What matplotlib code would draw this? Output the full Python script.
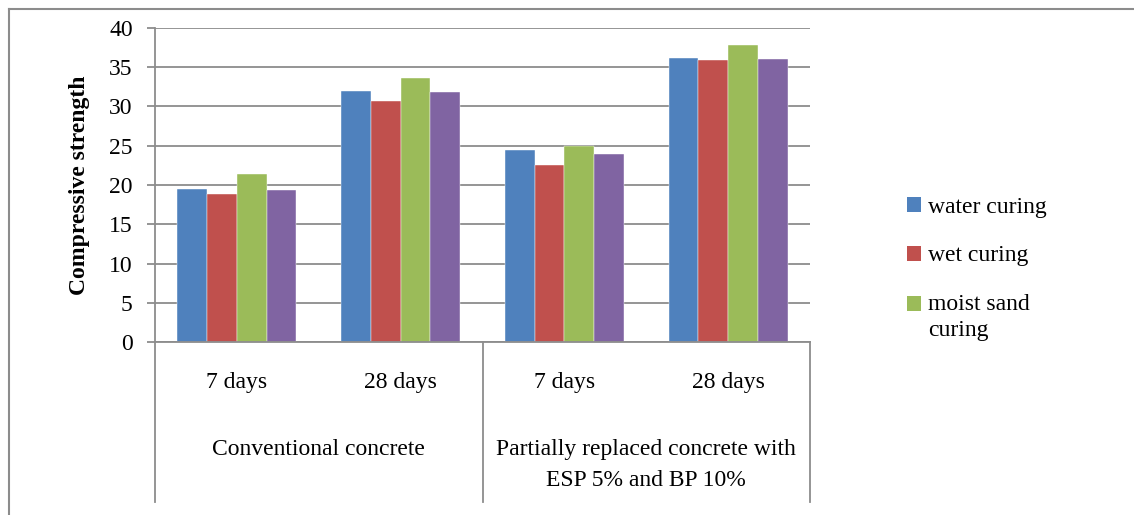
import numpy as np
import matplotlib
matplotlib.use('Agg')
import matplotlib.pyplot as plt
from matplotlib.lines import Line2D
from matplotlib.patches import Patch, Rectangle
from matplotlib.legend_handler import HandlerPatch

plt.rcParams['font.family'] = ['Liberation Serif', 'DejaVu Serif']

# data
ages = ['7 days', '28 days', '7 days', '28 days']
groups = ['Conventional concrete', 'Partially replaced concrete with\nESP 5% and BP 10%']
water_curing = [19.5, 32.0, 24.5, 36.2]
wet_curing = [18.8, 30.7, 22.5, 35.9]
moist_sand_curing = [21.4, 33.6, 25.0, 37.8]
fourth_series = [19.3, 31.8, 24.0, 36.1]
series_names = ['water curing', 'wet curing', 'moist sand\ncuring']
colors = ['#4F81BD', '#C0504D', '#9BBB59', '#8064A2']

W, H = 1134, 515
fig = plt.figure(figsize=(W / 100, H / 100), dpi=100)
ax = fig.add_axes([155 / W, (H - 342) / H, (810 - 155) / W, (342 - 28) / H])

series = [water_curing, wet_curing, moist_sand_curing, fourth_series]
x = np.arange(len(ages))
bw = 1 / 5.5
for i, vals in enumerate(series):
    ax.bar(x + (i - 1.5) * bw, vals, bw, color=colors[i],
           edgecolor='white', linewidth=0.3, zorder=3)

grid_c = '#8c8c8c'
ax.set_xlim(-0.5, 3.5)
ax.set_ylim(0, 40)
ax.set_yticks(np.arange(0, 41, 5))
ax.yaxis.grid(True, color=grid_c, linewidth=1.3, zorder=0)
ax.set_axisbelow(True)
for s in ['top', 'right', 'bottom', 'left']:
    ax.spines[s].set_visible(False)
ax.set_xticks([])
ax.tick_params(axis='y', length=6, width=1.3, color=grid_c, pad=10, labelsize=17)

ax.set_ylabel('Compressive strength', fontsize=17, fontweight='bold')
ax.yaxis.set_label_coords(-0.099, 0.5)

# axis lines and category separators
trans = ax.get_xaxis_transform()
ax.plot([-0.5, 3.5], [0, 0], color=grid_c, lw=1.3, transform=trans, clip_on=False, zorder=4)
for xs in [-0.5, 1.5, 3.5]:
    ax.plot([xs, xs], [0 if xs != -0.5 else 1, -0.51], color=grid_c, lw=1.3,
            transform=trans, clip_on=False, zorder=4)

for xi, lab in zip(x, ages):
    ax.text(xi, -0.128, lab, transform=trans, ha='center', va='center', fontsize=17)
for gi, g in enumerate(groups):
    ax.text(0.5 + 2 * gi, -0.31, g, transform=trans, ha='center', va='top',
            fontsize=17, linespacing=1.6)


# legend key sits next to the first line of a two-line label
def top_patch(legend, orig_handle, xdescent, ydescent, width, height, fontsize):
    return Rectangle((-xdescent, -ydescent + 10), width, height)


handles = [Patch(facecolor=colors[i]) for i in range(3)]
leg = fig.legend(handles, series_names, loc='upper left', bbox_to_anchor=(886 / W, 1 - 176 / H),
                 frameon=False, fontsize=17, handlelength=0.6, handleheight=0.6,
                 handletextpad=0.3, labelspacing=1.15,
                 handler_map={handles[2]: HandlerPatch(patch_func=top_patch)})
for t in leg.get_texts():
    t.set_linespacing(1.35)

# outer chart frame
fig.add_artist(Line2D([8.5 / W, 1], [1 - 8.5 / H, 1 - 8.5 / H], color=grid_c, lw=1.5))
fig.add_artist(Line2D([8.5 / W, 8.5 / W], [0, 1 - 8.5 / H], color=grid_c, lw=1.5))

fig.savefig('out.png', dpi=100)
